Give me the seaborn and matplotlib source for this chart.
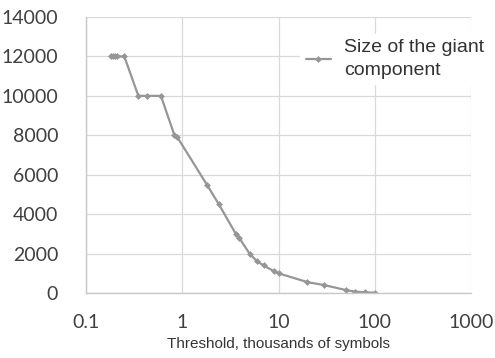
import matplotlib
matplotlib.use("Agg")
import matplotlib.pyplot as plt
import seaborn as sns
import pandas as pd
from matplotlib.ticker import FixedLocator, FixedFormatter, NullLocator

# Giant component size versus threshold (thousands of symbols)
threshold = [0.18, 0.19, 0.2, 0.21, 0.25, 0.35, 0.43, 0.6, 0.83, 0.89,
             1.8, 2.4, 3.6, 3.9, 5, 6, 7, 9, 10, 20, 30, 50, 63, 80, 100]
giant_size = [12000, 12000, 12000, 12000, 12000, 10000, 10000, 10000, 8000, 7900,
              5500, 4500, 3000, 2800, 2000, 1600, 1400, 1100, 1000, 550, 400, 150, 70, 30, 20]
x_ticks = [0.1, 1, 10, 100, 1000]
x_tick_labels = ["0.1", "1", "10", "100", "1000"]
y_ticks = [0, 2000, 4000, 6000, 8000, 10000, 12000, 14000]

df = pd.DataFrame({"threshold": threshold, "size": giant_size})

sns.set_theme(style="white")
plt.rcParams["font.family"] = ["Lato", "DejaVu Sans"]

fig = plt.figure(figsize=(4.95, 3.58), dpi=100)
ax = fig.add_axes([86 / 495, 1 - 293 / 358, (471 - 86) / 495, (293 - 17) / 358])

sns.lineplot(data=df, x="threshold", y="size", ax=ax, color="#969696",
             linewidth=1.6, marker="D", markersize=3.5, markeredgewidth=0,
             label="Size of the giant\ncomponent")

ax.set_xscale("log")
ax.set_xlim(0.1, 1000)
ax.set_ylim(0, 14000)
ax.xaxis.set_major_locator(FixedLocator(x_ticks))
ax.xaxis.set_major_formatter(FixedFormatter(x_tick_labels))
ax.xaxis.set_minor_locator(NullLocator())
ax.set_yticks(y_ticks)
ax.set_yticklabels([str(v) for v in y_ticks])

ax.grid(True, color="#d9d9d9", linewidth=0.9)
ax.set_axisbelow(True)
for side in ["top", "right"]:
    ax.spines[side].set_visible(False)
for side in ["left", "bottom"]:
    ax.spines[side].set_color("#c8c8c8")
    ax.spines[side].set_linewidth(1.0)

ax.tick_params(axis="both", length=0, labelsize=14, colors="#404040")
ax.tick_params(axis="x", pad=15)
ax.tick_params(axis="y", pad=20)

ax.set_xlabel("Threshold, thousands of symbols", fontsize=11, color="#333333",
              family=["Liberation Sans Narrow", "Liberation Sans", "DejaVu Sans"])
ax.xaxis.set_label_coords(0.5, -0.16)
ax.set_ylabel("")

leg = ax.legend(loc="upper left", bbox_to_anchor=(0.53, 0.975), frameon=True,
                fancybox=False, edgecolor="white", facecolor="white", framealpha=1,
                handlelength=1.3, handletextpad=0.7, borderpad=0.3,
                prop={"family": ["Liberation Sans", "DejaVu Sans"], "size": 14})
for t in leg.get_texts():
    t.set_color("#333333")
    t.set_linespacing(1.4)

fig.savefig("out.png", dpi=100, facecolor="white")
